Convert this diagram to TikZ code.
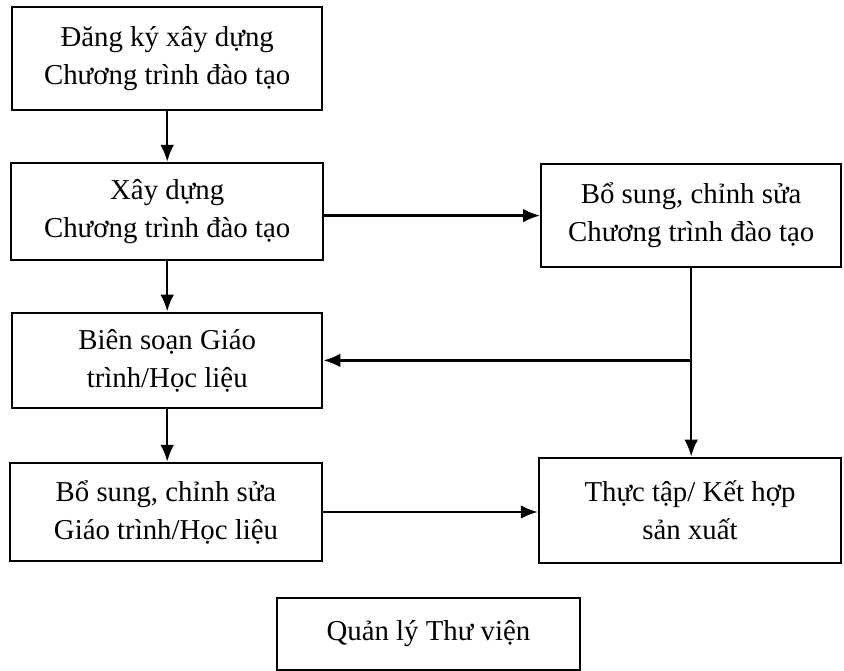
\documentclass[tikz,border=0pt]{standalone}
\usepackage{fontspec}
\setmainfont{Liberation Serif}
\usepackage{tikz}
\usetikzlibrary{arrows.meta,shapes}

\tikzset{
    khoi/.style={draw,rectangle,line width=1.8pt,align=center,inner sep=0pt,
        font=\fontsize{20.5}{27}\selectfont},
    muiten/.style={line width=1.6pt,-{Latex[length=4.2mm,width=3.4mm]}}
}

\begin{document}
\begin{tikzpicture}
\useasboundingbox (0,0) rectangle (21.1,-16.775);

\node[khoi,minimum width=7.75cm,minimum height=2.58cm] at (4.18,-1.46) (dangky)
    {Đăng ký xây dựng\\Chương trình đào tạo};
\node[khoi,minimum width=7.8cm,minimum height=2.43cm] at (4.18,-5.29) (xaydung)
    {Xây dựng\\Chương trình đào tạo};
\node[khoi,minimum width=7.75cm,minimum height=2.38cm] at (4.18,-9.01) (biensoan)
    {Biên soạn Giáo\\trình/Học liệu};
\node[khoi,minimum width=7.8cm,minimum height=2.45cm] at (4.15,-12.8) (bosunggt)
    {Bổ sung, chỉnh sửa\\Giáo trình/Học liệu};
\node[khoi,minimum width=7.5cm,minimum height=2.58cm] at (17.28,-5.39) (bosungct)
    {Bổ sung, chỉnh sửa\\Chương trình đào tạo};
\node[khoi,minimum width=7.55cm,minimum height=2.63cm] at (17.25,-12.76) (thuctap)
    {Thực tập/ Kết hợp\\sản xuất};
\node[khoi,minimum width=7.58cm,minimum height=1.8cm] at (10.71,-15.85) (thuvien)
    {Quản lý Thư viện};

\coordinate (re) at (bosungct.south |- biensoan.east);

\draw [muiten] (dangky) -- (xaydung);
\draw [muiten] (bosungct.west -| xaydung.east) -- (bosungct.west);
\draw [muiten] (xaydung) -- (biensoan);
\draw [muiten] (biensoan.south) -- (biensoan.south |- bosunggt.north);
\draw [muiten] (bosungct.south) -- (bosungct.south |- thuctap.north);
\draw [muiten] (re) -- (biensoan.east);
\draw [muiten] (bosunggt.east) -- (bosunggt.east -| thuctap.west);
\end{tikzpicture}
\end{document}
